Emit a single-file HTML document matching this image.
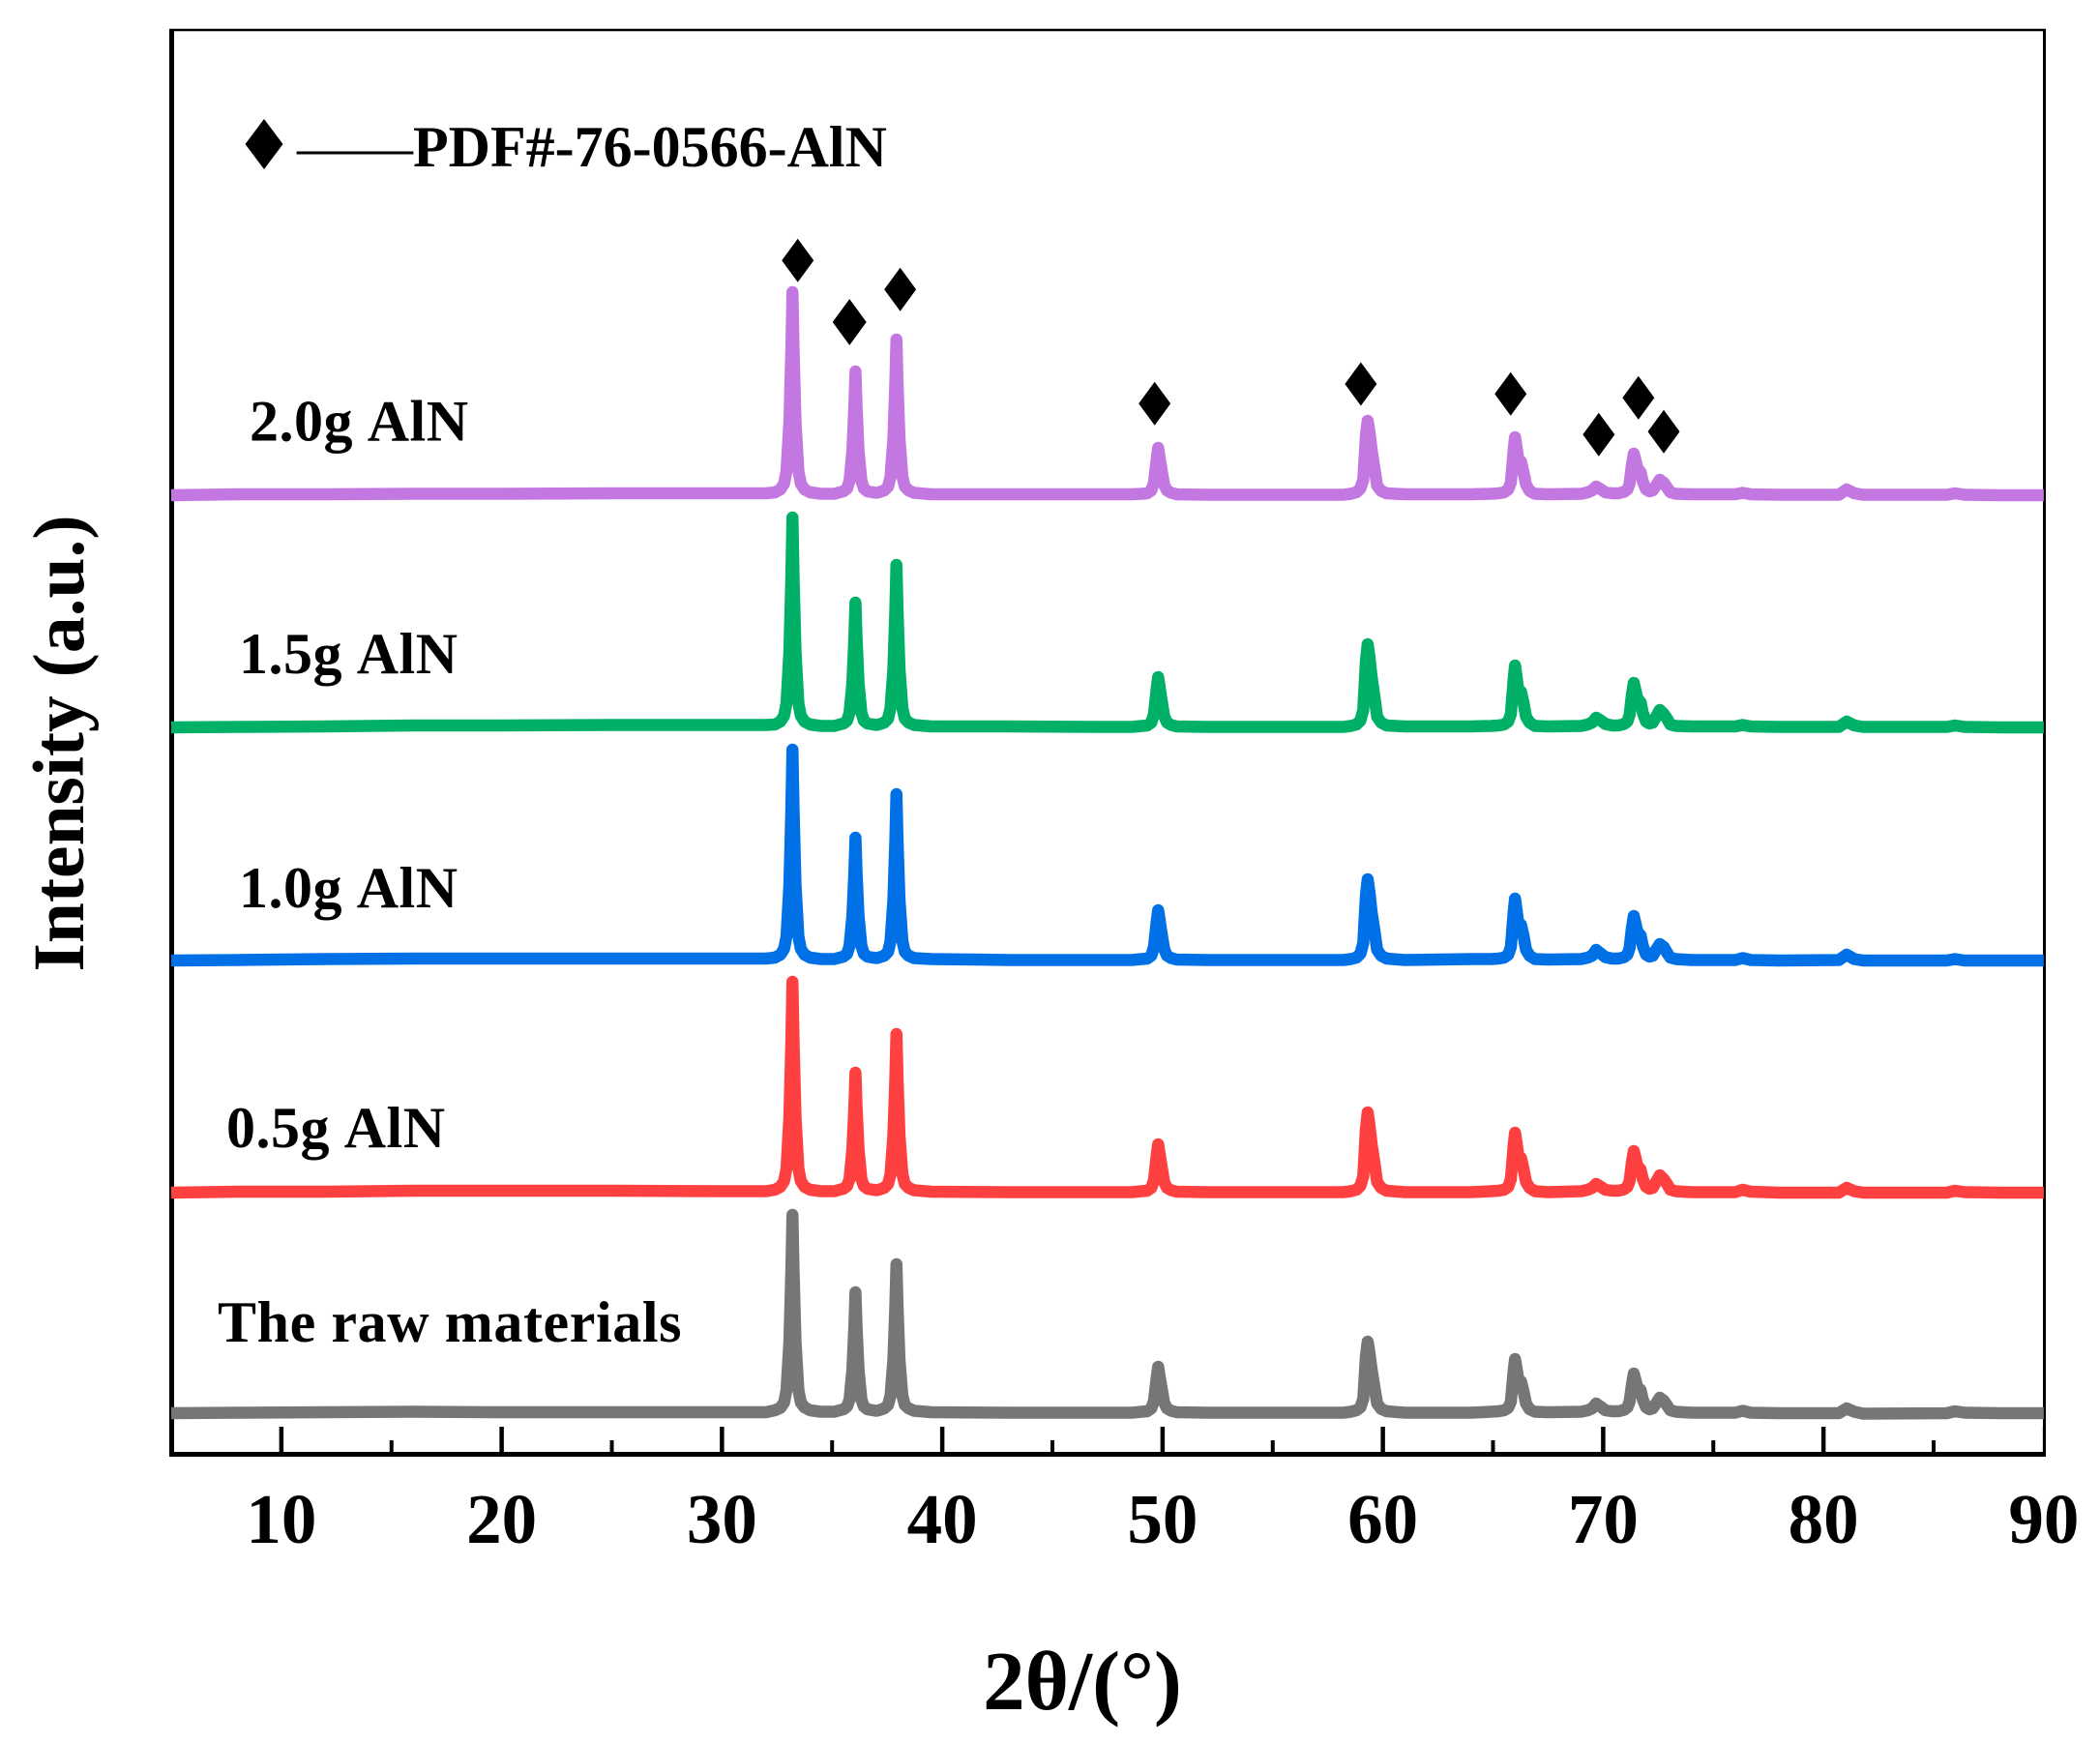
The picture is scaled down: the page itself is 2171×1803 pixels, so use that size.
<!DOCTYPE html>
<html lang="en">
<head>
<meta charset="utf-8">
<title>XRD patterns of AlN samples</title>
<style>
html,body{margin:0;padding:0;background:#fff;}
svg{display:block;}
text{font-family:"Liberation Serif","DejaVu Serif",serif;font-weight:bold;fill:#000;}
</style>
</head>
<body>
<svg id="chart" xmlns="http://www.w3.org/2000/svg" width="2171" height="1803" viewBox="0 0 2171 1803">
  <rect x="0" y="0" width="2171" height="1803" fill="#fff"/>
  <g id="axes">
    <line x1="175" y1="31" x2="2115" y2="31" stroke="#000" stroke-width="2.5"/>
    <line x1="2113.5" y1="30" x2="2113.5" y2="1506" stroke="#000" stroke-width="3"/>
    <line x1="177.5" y1="30" x2="177.5" y2="1506" stroke="#000" stroke-width="5"/>
    <line x1="175" y1="1503.5" x2="2115" y2="1503.5" stroke="#000" stroke-width="5"/>
  </g>
  <g id="ticks"></g>
  <g id="series"></g>
  <g id="markers"></g>
  <g id="legend">
    <polygon points="273,123 292.5,149 273,175 253.5,149" fill="#000"/>
    <text x="307" y="172" font-size="60"><tspan font-weight="normal" style="font-weight:normal">——</tspan>PDF#-76-0566-AlN</text>
  </g>
  <text x="258" y="455.5" font-size="60" letter-spacing="0.5" word-spacing="2.5">2.0g AlN</text>
  <text x="247" y="696" font-size="60" letter-spacing="0.5" word-spacing="2.5">1.5g AlN</text>
  <text x="247" y="938" font-size="60" letter-spacing="0.5" word-spacing="2.5">1.0g AlN</text>
  <text x="234" y="1186" font-size="60" letter-spacing="0.5" word-spacing="2.5">0.5g AlN</text>
  <text x="225" y="1387" font-size="60" letter-spacing="0.6">The raw materials</text>
  <text transform="translate(86,768.5) rotate(-90)" text-anchor="middle" font-size="75.5">Intensity (a.u.)</text>
  <text x="1119" y="1767" text-anchor="middle" font-size="87">2θ/(°)</text>
</svg>
<script>
// 2-theta sampling positions (degrees), shared by all patterns
const twoTheta = [
  5,8,12,16,20,25,30,32,
  32.4,32.65,32.82,32.93,33.06,33.15,33.2,33.25,33.34,33.47,33.58,33.75,34.0,
  34.5,35.1,
  35.26,35.51,35.68,35.79,35.92,36.01,36.06,36.11,36.2,36.33,36.44,36.61,36.86,
  37.0,
  37.12,37.37,37.54,37.65,37.78,37.87,37.92,37.97,38.06,38.19,38.3,38.47,38.72,
  39.5,43,47,48.6,
  49.05,49.3,49.49,49.61,49.74,49.8,49.86,49.95,50.07,50.2,50.39,50.64,
  52,55,58.2,
  58.55,58.8,58.98,59.11,59.23,59.31,59.39,59.49,59.61,59.74,59.92,60.17,
  61,64,64.9,
  65.25,65.5,65.69,65.81,65.94,66.0,66.06,66.15,66.27,66.38,66.5,66.66,66.9,
  67.5,69.0,
  69.3,69.5,69.68,69.9,70.1,70.4,
  70.7,70.95,
  71.1,71.2,71.3,71.39,71.47,71.55,71.7,71.8,71.95,72.1,
  72.25,72.4,72.57,72.75,72.9,73.05,73.3,
  74,76.0,76.33,76.7,78,80.7,81.05,81.4,81.8,85.6,85.97,86.4,88,90
];

// Intensities (a.u., above each pattern's own baseline)
const rawMaterials = [
  0,.5,1,1.5,1,1,1,1,
  3,5.5,11,24,74,148,205,148,74,24,11,6,3,
  1.5,1.5,
  2.5,4,7,14,45,90,125,90,45,14,7,4,3,
  2.5,
  3,5,8.5,18,55,111,154,111,55,18,8.5,5,2.5,
  1,.5,.5,.5,
  1.5,2,5,13,38,48,39,27,11,5,2.5,1,
  .5,.5,.5,
  1.5,3,6,15,59,74,63,45,28,10,4.5,2,
  .5,.5,1.5,
  2,3,5.5,12,45,56,48,35,33,23,10,4,1.5,
  1,1.5,
  3,5,10,6.5,3,2,
  2,3.5,
  6,12,29,41,34,27,24,14,6,4,
  5,10,16,13,8,3,1.5,
  .5,.5,2.5,.5,0,0,5,1.5,-.5,0,2,.5,0,0
];
const aln05g = [
  0,1,1,2,2,2,1.5,1.5,
  3,6,12,25,78,157,218,157,78,25,12,6,3,
  1.5,1.5,
  2.5,4,7,14,45,89,124,89,45,14,7,4,3,
  2.5,
  3,5,9,19,59,118,164,118,59,19,9,5,2.5,
  1,.5,.5,.5,
  1.5,2,5,13,40,50,41,28,11,5,2.5,1,
  .5,.5,.5,
  1.5,3,7,17,66,83,70,50,32,11,5,2,
  .5,.5,1.5,
  2,3,6,14,50,62,53,38,36,25,11,5,1.5,
  .5,1.5,
  3,5,9,6,3,2,
  2,3.5,
  6,12,31,43,36,28,24,14,6,4,
  5,11,18,14,9,3,1.5,
  .5,.5,3,1,0,0,5,1.5,0,0,2,.5,0,0
];
const aln10g = [
  0,.5,1.5,2,2,2,2,2,
  3,6,12,25,78,157,218,157,78,25,12,6,3,
  1.5,1.5,
  2.5,4,7,15,46,91,127,91,46,15,7,4,3,
  2.5,
  3,5,9,20,62,124,172,124,62,20,9,5,2.5,
  1.5,.5,.5,.5,
  1.5,2,5,14,42,52,43,29,12,5,2.5,1,
  .5,.5,.5,
  1.5,3,7,18,67,84,71,50,32,11,5,2,
  .5,1.5,1.5,
  2,3,6,14,51,64,54,38,37,26,11,5,1.5,
  1,1.5,
  3,5,11,7,3.5,2,
  2,3.5,
  6,13,33,46,38,30,26,15,6,4,
  5,11,17,14,8,3,1.5,
  .5,.5,2.5,.5,0,.5,6,1.5,0,0,1.5,0,0,0
];
const aln15g = [
  0,.5,1,2,2,2.5,2.5,2.5,
  3,6,12,25,78,156,217,156,78,25,12,6,3,
  1.5,1.5,
  2.5,4,7,15,46,93,129,93,46,15,7,4,3,
  2.5,
  3,5,9,20,60,121,168,121,60,20,9,5,2.5,
  1,1,.5,.5,
  1.5,2,5,14,42,52,43,29,12,5,2.5,1,
  .5,.5,.5,
  1.5,3,7,18,69,86,73,52,33,11,5,2,
  1,1,1.5,
  2,3,6,14,51,64,54,38,37,26,11,5,1.5,
  1,1.5,
  3,5,10,7,3.5,2,
  2,3.5,
  6,13,33,46,38,30,26,15,6,4,
  5,11,18,14,9,3,1.5,
  1,1,2.5,1,.5,.5,6,2,.5,.5,2,.5,0,0
];
const aln20g = [
  0,1,1,1.5,1.5,2,2,2,
  3,6,12,25,76,151,210,151,76,25,12,6,3,
  1.5,1.5,
  2.5,4,7,15,46,92,128,92,46,15,7,4,3,
  2.5,
  3,5,9,19,58,116,161,116,58,19,9,5,2.5,
  1,1,1,1,
  1.5,2,5,13,39,49,40,27,11,5,2.5,1,
  .5,.5,.5,
  1.5,3,7,16,62,77,66,47,29,10,4.5,2,
  1,1,1.5,
  2,3,6,13,48,60,51,37,35,24,11,4.5,1.5,
  1,1.5,
  3,5,9,6,3,2,
  2,3.5,
  6,12,31,43,36,28,24,14,6,4,
  5,10,16,13,8,3,1.5,
  1,1,2.5,1,.5,.5,6,2,.5,.5,2,.5,0,0
];

// Vertical stacking offset of each pattern (a.u.)
const stackOffsets = [0, 228, 468, 709, 949];
const seriesNames = ['raw-materials', 'aln-0-5g', 'aln-1-0g', 'aln-1-5g', 'aln-2-0g'];

// Axis tick values and labels
const majorTicks = [10, 20, 30, 40, 50, 60, 70, 80, 90];
const minorTicks = [15, 25, 35, 45, 55, 65, 75, 85];
const tickLabels = ['10', '20', '30', '40', '50', '60', '70', '80', '90'];

// Peak markers in data coordinates: 2-theta and stacked intensity
const markerTwoTheta = [33.44, 35.79, 38.09, 49.64, 59.0, 65.8, 69.8, 71.6, 72.75];
const markerIntensity = [1191.7, 1128, 1161.7, 1043.7, 1064, 1053.7, 1011.7, 1049.7, 1014.7];

const SVG_NS = 'http://www.w3.org/2000/svg';
function xScale(v) { return 177 + (v - 5) * 22.775; }
function yScale(v) { return 1461 - v; }

const allSeries = [rawMaterials, aln05g, aln10g, aln15g, aln20g];
const seriesColors = ['#767676', '#ff4040', '#0070e6', '#00b067', '#c378e1'];

const seriesGroup = document.getElementById('series');
allSeries.forEach(function (values, s) {
  const pts = values.map(function (v, i) {
    return xScale(twoTheta[i]).toFixed(2) + ',' + yScale(v + stackOffsets[s]).toFixed(2);
  }).join(' ');
  const line = document.createElementNS(SVG_NS, 'polyline');
  
  
  line.setAttribute('points', pts);
  line.setAttribute('fill', 'none');
  line.setAttribute('stroke', seriesColors[s]);
  line.setAttribute('stroke-width', '12.5');
  line.setAttribute('stroke-linejoin', 'round');
  line.setAttribute('stroke-linecap', 'butt');
  seriesGroup.appendChild(line);
});

const tickGroup = document.getElementById('ticks');
majorTicks.forEach(function (t, i) {
  const tick = document.createElementNS(SVG_NS, 'line');
  
  
  const x = xScale(t) + (t === 90 ? 0.5 : 0);
  tick.setAttribute('x1', x);
  tick.setAttribute('x2', x);
  tick.setAttribute('y1', 1475);
  tick.setAttribute('y2', 1502);
  tick.setAttribute('stroke', '#000');
  tick.setAttribute('stroke-width', t === 90 ? 3 : 4.5);
  tickGroup.appendChild(tick);
  const label = document.createElementNS(SVG_NS, 'text');
  
  
  label.setAttribute('x', xScale(t));
  label.setAttribute('y', 1595);
  label.setAttribute('text-anchor', 'middle');
  label.setAttribute('font-size', '73');
  label.textContent = tickLabels[i];
  tickGroup.appendChild(label);
});
minorTicks.forEach(function (t) {
  const tick = document.createElementNS(SVG_NS, 'line');
  
  
  tick.setAttribute('x1', xScale(t));
  tick.setAttribute('x2', xScale(t));
  tick.setAttribute('y1', 1489);
  tick.setAttribute('y2', 1502);
  tick.setAttribute('stroke', '#000');
  tick.setAttribute('stroke-width', 4);
  tickGroup.appendChild(tick);
});

const markerGroup = document.getElementById('markers');
markerTwoTheta.forEach(function (t, i) {
  const cx = xScale(t);
  const cy = yScale(markerIntensity[i]);
  const k = i === 1 ? 1.06 : 1;
  const hw = 16.5 * k;
  const hh = 22.5 * k;
  const d = document.createElementNS(SVG_NS, 'polygon');
  
  
  d.setAttribute('points', [cx, cy - hh, cx + hw, cy, cx, cy + hh, cx - hw, cy].join(' '));
  d.setAttribute('fill', '#000');
  markerGroup.appendChild(d);
});
</script>
</body>
</html>
